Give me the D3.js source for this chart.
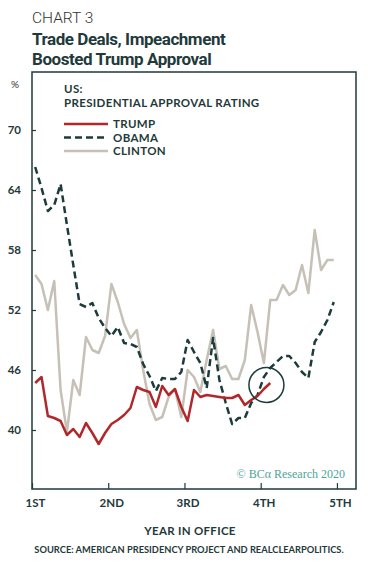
<!DOCTYPE html>
<html>
<head>
<meta charset="utf-8">
<script src="https://cdn.jsdelivr.net/npm/d3@7"></script>
<style>
    body { margin: 0; background: #fff; }
    svg text { font-family: Lato, "Open Sans", sans-serif; }
</style>
</head>
<body>
<div id="wrapper"></div>
<script>
// monthly approval ratings, month 1 .. n of the first term
var trump = [44.7, 45.3, 41.4, 41.2, 40.9, 39.5, 40.1, 39.3, 40.7, 39.7, 38.6, 39.7,
    40.6, 41.0, 41.5, 42.2, 44.3, 44.0, 43.8, 42.3, 44.4, 43.5, 44.1, 42.3,
    40.9, 44.0, 43.3, 43.5, 43.4, 43.3, 43.2, 43.2, 43.5, 42.5, 43.0, 43.4,
    44.1, 44.7];
var obama = [66.3, 64.2, 61.9, 62.5, 64.6, 60.5, 56.5, 52.6, 52.3, 52.7, 51.2, 50.2,
    49.4, 50.3, 48.7, 48.6, 48.3, 46.6, 45.4, 43.9, 45.2, 45.1, 45.1, 45.8,
    49.0, 47.8, 46.7, 44.2, 49.2, 45.0, 42.7, 40.6, 41.2, 41.2, 42.7, 43.5,
    45.3, 46.2, 46.8, 47.4, 47.4, 46.7, 45.8, 45.2, 48.8, 49.8, 51.0, 52.8];
var clinton = [55.5, 54.6, 52.0, 54.9, 44.0, 39.8, 45.0, 43.5, 49.3, 48.0, 47.7, 49.4,
    54.6, 52.8, 50.6, 49.2, 50.0, 46.0, 42.6, 41.0, 41.3, 43.3, 44.1, 41.3,
    46.0, 45.3, 43.8, 47.0, 50.0, 46.1, 46.4, 45.1, 45.1, 47.0, 52.5, 49.8,
    46.7, 53.0, 53.0, 54.5, 53.5, 54.0, 56.5, 53.7, 60.0, 56.0, 57.0, 57.0];

var y_ticks = [40, 46, 52, 58, 64, 70];
var x_ticks = [0, 1, 2, 3, 4];
var x_tick_labels = ['1ST', '2ND', '3RD', '4TH', '5TH'];

var series_names = ['TRUMP', 'OBAMA', 'CLINTON'];
var series_colors = ['#b1282b', '#1d3b3b', '#c6c0b6'];
var series_dashes = [null, '7,4', null];

var WIDTH = 372, HEIGHT = 567;
var BOX = {left: 32, right: 356, top: 72, bottom: 489};
var DARK = '#1f3a3a';

var svg = d3.select('#wrapper').append('svg')
    .attr('width', WIDTH)
    .attr('height', HEIGHT);

// titles
svg.append('text')
    .attr('x', 32).attr('y', 23)
    .style('font-family', 'Roboto')
    .style('font-weight', 300)
    .style('font-size', '15.5px')
    .attr('fill', '#333')
    .text('CHART 3');
svg.append('text')
    .attr('x', 32).attr('y', 45)
    .style('font-family', 'Roboto')
    .style('font-weight', 700)
    .style('font-size', '17px')
    .style('letter-spacing', '-0.45px')
    .attr('fill', DARK)
    .text('Trade Deals, Impeachment');
svg.append('text')
    .attr('x', 32).attr('y', 65)
    .style('font-family', 'Roboto')
    .style('font-weight', 700)
    .style('font-size', '17px')
    .style('letter-spacing', '-0.45px')
    .attr('fill', DARK)
    .text('Boosted Trump Approval');

svg.append('text')
    .attr('x', 15).attr('y', 88)
    .attr('text-anchor', 'middle')
    .style('font-size', '10px')
    .attr('fill', '#333')
    .text('%');

// scales
var scale_x = d3.scaleLinear()
    .domain([0, 4.25])
    .range([BOX.left, BOX.right]);
var scale_y = d3.scaleLinear()
    .domain([34.1, 75.8])
    .range([BOX.bottom, BOX.top]);

var month_to_year = function(i) { return (i + 0.5) / 12; };

// axes with inward ticks
var axis_y = d3.axisLeft(scale_y)
    .tickValues(y_ticks)
    .tickSizeInner(-4)
    .tickSizeOuter(0)
    .tickPadding(12);
var axis_x = d3.axisBottom(scale_x)
    .tickValues(x_ticks)
    .tickSizeInner(-6)
    .tickSizeOuter(0)
    .tickPadding(12)
    .tickFormat(function(d, i) { return x_tick_labels[i]; });

var gy = svg.append('g')
    .attr('id', 'y-axis')
    .attr('transform', 'translate(' + BOX.left + ',0)')
    .call(axis_y);
var gx = svg.append('g')
    .attr('id', 'x-axis')
    .attr('transform', 'translate(0,' + BOX.bottom + ')')
    .call(axis_x);

[gy, gx].forEach(function(g) {
    g.select('.domain').remove();
    g.selectAll('line').attr('stroke', DARK).attr('stroke-width', 1.2);
    g.selectAll('text')
        .attr('fill', DARK)
        .style('font-family', 'Lato')
        .style('font-weight', 700)
        .style('font-size', '11.5px');
});
gy.selectAll('text').attr('dx', '1px');
gx.selectAll('text').attr('dx', '3px').attr('dy', '0.5em');

// frame
svg.append('rect')
    .attr('x', BOX.left).attr('y', BOX.top)
    .attr('width', BOX.right - BOX.left)
    .attr('height', BOX.bottom - BOX.top)
    .attr('fill', 'none')
    .attr('stroke', DARK)
    .attr('stroke-width', 1.5);

// lines, clinton at the back
var line = d3.line()
    .x(function(d, i) { return scale_x(month_to_year(i)); })
    .y(function(d) { return scale_y(d); });

var series = [trump, obama, clinton];
[2, 1, 0].forEach(function(k) {
    svg.append('path')
        .datum(series[k])
        .attr('class', 'series')
        .attr('d', line)
        .attr('fill', 'none')
        .attr('stroke', series_colors[k])
        .attr('stroke-width', 2.5)
        .attr('stroke-linejoin', 'round')
        .attr('stroke-dasharray', series_dashes[k]);
});

// circle around trump's latest reading
var last = trump.length - 1;
svg.append('circle')
    .attr('cx', scale_x(month_to_year(last - 0.6)))
    .attr('cy', scale_y(trump[last] - 0.2))
    .attr('r', 17.5)
    .attr('fill', 'none')
    .attr('stroke', DARK)
    .attr('stroke-width', 1.5);

// legend
var legend = svg.append('g').attr('transform', 'translate(64,0)');
var legend_text = function(sel) {
    sel.attr('fill', DARK)
        .style('font-weight', 700)
        .style('font-size', '11.5px')
        .style('letter-spacing', '0.35px');
};
legend.append('text')
    .attr('x', 0).attr('y', 93)
    .call(legend_text)
    .text('US:');
legend.append('text')
    .attr('x', 0).attr('y', 107)
    .call(legend_text)
    .text('PRESIDENTIAL APPROVAL RATING');
series_names.forEach(function(name, k) {
    var yy = 124 + k * 13.5;
    legend.append('line')
        .attr('x1', 0).attr('x2', 44)
        .attr('y1', yy).attr('y2', yy)
        .attr('stroke', series_colors[k])
        .attr('stroke-width', 2.5)
        .attr('stroke-dasharray', series_dashes[k]);
    legend.append('text')
        .attr('x', 49).attr('y', yy + 4)
        .call(legend_text)
        .text(name);
});

// watermark
svg.append('text')
    .attr('x', 345).attr('y', 478)
    .attr('text-anchor', 'end')
    .attr('fill', '#4fa596')
    .style('font-family', '"Liberation Serif", serif')
    .style('font-size', '12px')
    .text('\u00a9 BC\u03b1 Research 2020');

// footer
svg.append('text')
    .attr('x', 190).attr('y', 535)
    .attr('text-anchor', 'middle')
    .attr('fill', DARK)
    .style('font-weight', 700)
    .style('font-size', '11.5px')
    .style('letter-spacing', '0.3px')
    .text('YEAR IN OFFICE');
svg.append('text')
    .attr('x', 189).attr('y', 553)
    .attr('text-anchor', 'middle')
    .attr('fill', DARK)
    .style('font-weight', 700)
    .style('font-size', '9.3px')
    .text('SOURCE: AMERICAN PRESIDENCY PROJECT AND REALCLEARPOLITICS.');
</script>
</body>
</html>
